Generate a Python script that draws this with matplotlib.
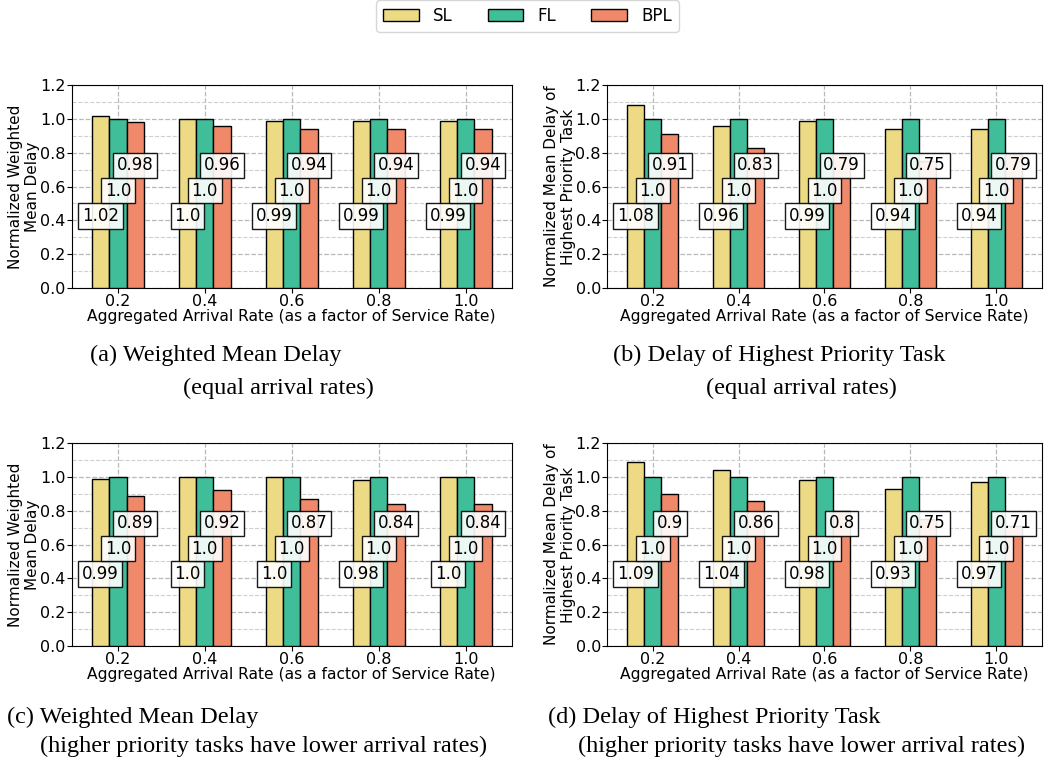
import matplotlib
matplotlib.use("Agg")
import matplotlib.pyplot as plt
from matplotlib.patches import Patch
import numpy as np

# данные -----------------------------------------------------------
rates = ['0.2', '0.4', '0.6', '0.8', '1.0']
methods = ['SL', 'FL', 'BPL']
colors = ['#ecdb84', '#40bd99', '#f0896a']

sl_a = [1.02, 1.0, 0.99, 0.99, 0.99]
fl_a = [1.0, 1.0, 1.0, 1.0, 1.0]
bpl_a = [0.98, 0.96, 0.94, 0.94, 0.94]

sl_b = [1.08, 0.96, 0.99, 0.94, 0.94]
fl_b = [1.0, 1.0, 1.0, 1.0, 1.0]
bpl_b = [0.91, 0.83, 0.79, 0.75, 0.79]

sl_c = [0.99, 1.0, 1.0, 0.98, 1.0]
fl_c = [1.0, 1.0, 1.0, 1.0, 1.0]
bpl_c = [0.89, 0.92, 0.87, 0.84, 0.84]

sl_d = [1.09, 1.04, 0.98, 0.93, 0.97]
fl_d = [1.0, 1.0, 1.0, 1.0, 1.0]
bpl_d = [0.9, 0.86, 0.8, 0.75, 0.71]

ylab_wmd = 'Normalized Weighted\nMean Delay'
ylab_hp = 'Normalized Mean Delay of\nHighest Priority Task'
xlab = 'Aggregated Arrival Rate (as a factor of Service Rate)'

label_y = [0.425, 0.575, 0.725]
w = 0.2

fig = plt.figure(figsize=(10.55, 7.63), dpi=100)


def panel(rect, series, ylabel):
    ax = fig.add_axes(rect)
    x = np.arange(len(rates))
    for i, vals in enumerate(series):
        xs = x + (i - 1) * w
        ax.bar(xs, vals, w, color=colors[i], edgecolor='black', linewidth=1, zorder=3)
        for xi, v in zip(xs, vals):
            ax.text(xi, label_y[i], str(v), ha='center', va='center', fontsize=12, zorder=5,
                    bbox=dict(boxstyle='square,pad=0.22', facecolor='white', edgecolor='black',
                              alpha=0.9, linewidth=1))
    ax.set_ylim(0, 1.2)
    ax.set_yticks(np.arange(0, 1.21, 0.2))
    ax.set_yticks(np.arange(0.1, 1.2, 0.2), minor=True)
    ax.tick_params(axis='y', which='minor', length=0)
    ax.set_xticks(x)
    ax.set_xticklabels(rates)
    ax.tick_params(axis='both', which='major', labelsize=11.5, pad=1)
    ax.grid(True, which='major', linestyle='--', color='#b8b8b8', linewidth=0.9, zorder=0)
    ax.grid(True, which='minor', axis='y', linestyle='--', color='#cfcfcf', linewidth=0.8, zorder=0)
    ax.set_axisbelow(True)
    ax.set_xlabel(xlab, fontsize=11.2, labelpad=0)
    ax.set_ylabel(ylabel, fontsize=11, linespacing=1.15)
    ax.yaxis.set_label_coords(-0.072, 0.5)
    return ax


panel([0.068, 0.6225, 0.417, 0.266], [sl_a, fl_a, bpl_a], ylab_wmd)
panel([0.5755, 0.6225, 0.412, 0.266], [sl_b, fl_b, bpl_b], ylab_hp)
panel([0.068, 0.1533, 0.417, 0.266], [sl_c, fl_c, bpl_c], ylab_wmd)
panel([0.5755, 0.1533, 0.412, 0.266], [sl_d, fl_d, bpl_d], ylab_hp)

# легенда
handles = [Patch(facecolor=c, edgecolor='black', label=m) for c, m in zip(colors, methods)]
fig.legend(handles=handles, loc='center', bbox_to_anchor=(0.5, 0.979), ncol=3,
           fontsize=12, frameon=True, handlelength=2.15, handletextpad=0.85, columnspacing=2.1)

# подписи
cap = dict(family='Liberation Serif', fontsize=17.5, va='center', ha='left')
W, H = 1055.0, 763.0
fig.text(90 / W, 1 - 355 / H, '(a) Weighted Mean Delay', **cap)
fig.text(183 / W, 1 - 388 / H, '(equal arrival rates)', **cap)
fig.text(613 / W, 1 - 355 / H, '(b) Delay of Highest Priority Task', **cap)
fig.text(706 / W, 1 - 388 / H, '(equal arrival rates)', **cap)
fig.text(7 / W, 1 - 717 / H, '(c) Weighted Mean Delay', **cap)
fig.text(40 / W, 1 - 746 / H, '(higher priority tasks have lower arrival rates)', **cap)
fig.text(548 / W, 1 - 717 / H, '(d) Delay of Highest Priority Task', **cap)
fig.text(578 / W, 1 - 746 / H, '(higher priority tasks have lower arrival rates)', **cap)

fig.savefig('out.png', dpi=100)
